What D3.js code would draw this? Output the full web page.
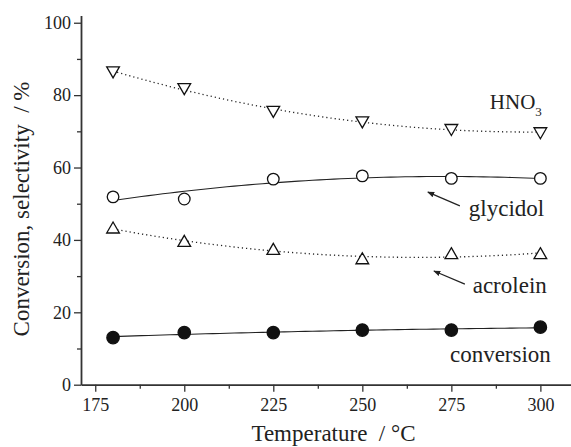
<!DOCTYPE html>
<html>
<head>
<meta charset="utf-8">
<script src="https://cdn.jsdelivr.net/npm/d3@7"></script>
<style>
  html, body { margin: 0; padding: 0; background: #fff; }
  svg { display: block; font-family: "Liberation Serif", "DejaVu Serif", serif; }
</style>
</head>
<body>
<svg id="chart" width="571" height="447"></svg>
<script>
// temperatures (°C)
const temps = [180, 200, 225, 250, 275, 300];
// series values (%)
const hno3 = [86.5, 81.9, 75.6, 72.7, 70.6, 69.7];
const glycidol = [51.9, 51.3, 56.8, 57.7, 57.0, 57.0];
const acrolein = [43.2, 39.5, 37.3, 34.7, 36.1, 36.1];
const conversion = [13.0, 14.4, 14.4, 15.1, 15.1, 15.9];

const xTicks = [175, 200, 225, 250, 275, 300];
const yTicks = [0, 20, 40, 60, 80, 100];

// text labels placed in data coordinates
const labels = [
  { text: 'HNO', sub: '3', x: 285.8, y: 76.3, size: 21 },
  { text: 'glycidol', x: 279.9, y: 46.6, size: 23 },
  { text: 'acrolein', x: 281.0, y: 25.3, size: 23 },
  { text: 'conversion', x: 274.6, y: 6.4, size: 23 }
];
const arrows = [
  { x1: 277.4, y1: 49.4, x2: 268.4, y2: 53.2 },
  { x1: 278.8, y1: 27.8, x2: 270.1, y2: 31.4 }
];

const svg = d3.select('#chart');
const ink = '#222';

const x = d3.scaleLinear().domain([171, 308.6]).range([81, 571]);
const y = d3.scaleLinear().domain([0, 102]).range([384.7, 15.5]);

// quadratic least squares fit
function quadFit(xs, ys) {
    const n = xs.length;
    const m = d3.mean(xs);
    const u = xs.map(v => (v - m) / 50);
    let s = [0, 0, 0, 0, 0], t = [0, 0, 0];
    u.forEach((v, i) => {
        for (let k = 0; k < 5; k++) s[k] += Math.pow(v, k);
        for (let k = 0; k < 3; k++) t[k] += ys[i] * Math.pow(v, k);
    });
    const A = [[s[0], s[1], s[2], t[0]], [s[1], s[2], s[3], t[1]], [s[2], s[3], s[4], t[2]]];
    for (let i = 0; i < 3; i++) {
        for (let j = i + 1; j < 3; j++) {
            const f = A[j][i] / A[i][i];
            for (let k = i; k < 4; k++) A[j][k] -= f * A[i][k];
        }
    }
    const c = [0, 0, 0];
    for (let i = 2; i >= 0; i--) {
        let v = A[i][3];
        for (let k = i + 1; k < 3; k++) v -= A[i][k] * c[k];
        c[i] = v / A[i][i];
    }
    return xv => { const w = (xv - m) / 50; return c[0] + c[1] * w + c[2] * w * w; };
}

const line = d3.line().x(d => x(d[0])).y(d => y(d[1]));
function drawFit(vals, dashed) {
    const f = quadFit(temps, vals);
    const pts = d3.range(180, 300.01, 2).map(t => [t, f(t)]);
    svg.append('path')
        .attr('d', line(pts))
        .attr('fill', 'none')
        .attr('stroke', ink)
        .attr('stroke-width', dashed ? 1.3 : 1.1)
        .attr('stroke-dasharray', dashed ? '1.2,3' : null);
}

drawFit(hno3, true);
drawFit(glycidol, false);
drawFit(acrolein, true);
drawFit(conversion, false);

// markers
const triDown = d3.symbol().type(d3.symbolTriangle).size(70);
function drawMarkers(vals, kind) {
    const g = svg.append('g');
    temps.forEach((t, i) => {
        const cx = x(t), cy = y(vals[i]);
        if (kind === 'circle' || kind === 'filled') {
            g.append('circle')
                .attr('cx', cx).attr('cy', cy)
                .attr('r', kind === 'filled' ? 6.2 : 5.8)
                .attr('fill', kind === 'filled' ? '#111' : '#fff')
                .attr('stroke', '#111')
                .attr('stroke-width', 1.3);
        } else {
            const rot = kind === 'down' ? 180 : 0;
            g.append('path')
                .attr('d', triDown())
                .attr('transform', `translate(${cx},${cy + (kind === 'down' ? -1 : 1)}) rotate(${rot})`)
                .attr('fill', '#fff')
                .attr('stroke', '#111')
                .attr('stroke-width', 1.3);
        }
    });
}
drawMarkers(hno3, 'down');
drawMarkers(glycidol, 'circle');
drawMarkers(acrolein, 'up');
drawMarkers(conversion, 'filled');

// axes
const xAxis = svg.append('g').attr('transform', `translate(0,${y(0)})`)
    .call(d3.axisBottom(x).tickValues(xTicks).tickSize(7).tickPadding(7).tickSizeOuter(0));
svg.append('g').attr('transform', `translate(0,${y(0)})`)
    .call(d3.axisBottom(x).tickValues(d3.range(187.5, 300, 25)).tickSize(4).tickFormat('').tickSizeOuter(0))
    .select('.domain').remove();
const yAxis = svg.append('g').attr('transform', `translate(${x(171)},0)`)
    .call(d3.axisLeft(y).tickValues(yTicks).tickSize(7).tickPadding(3).tickSizeOuter(0));
svg.append('g').attr('transform', `translate(${x(171)},0)`)
    .call(d3.axisLeft(y).tickValues(d3.range(10, 100, 20)).tickSize(4).tickFormat('').tickSizeOuter(0))
    .select('.domain').remove();

svg.selectAll('.domain').attr('stroke', '#333').attr('stroke-width', 1.8);
svg.selectAll('.tick line').attr('stroke', '#333').attr('stroke-width', 1.3);
svg.selectAll('.tick text')
    .attr('font-family', '"Liberation Serif", serif')
    .attr('font-size', 18)
    .attr('fill', '#222');

// axis titles
svg.append('text')
    .attr('x', 333.5).attr('y', 441)
    .attr('text-anchor', 'middle')
    .attr('font-size', 23).attr('fill', '#222')
    .attr('xml:space', 'preserve')
    .text('Temperature  / °C');
svg.append('text')
    .attr('transform', 'translate(29,209) rotate(-90)')
    .attr('text-anchor', 'middle')
    .attr('font-size', 23).attr('fill', '#222')
    .attr('xml:space', 'preserve')
    .text('Conversion, selectivity  / %');

// annotations
labels.forEach(l => {
    const t = svg.append('text')
        .attr('x', x(l.x)).attr('y', y(l.y))
        .attr('font-size', l.size).attr('fill', '#222')
        .text(l.text);
    if (l.sub) {
        t.append('tspan').attr('dy', 7).attr('font-size', 13).text(l.sub);
    }
});

svg.append('defs').append('marker')
    .attr('id', 'arrowhead')
    .attr('viewBox', '0 0 10 10')
    .attr('refX', 9).attr('refY', 5)
    .attr('markerWidth', 7).attr('markerHeight', 7)
    .attr('markerUnits', 'userSpaceOnUse')
    .attr('orient', 'auto')
    .append('path').attr('d', 'M0,1 L10,5 L0,9 Z').attr('fill', '#222');

arrows.forEach(a => {
    svg.append('line')
        .attr('x1', x(a.x1)).attr('y1', y(a.y1))
        .attr('x2', x(a.x2)).attr('y2', y(a.y2))
        .attr('stroke', '#222').attr('stroke-width', 1.2)
        .attr('marker-end', 'url(#arrowhead)');
});
</script>
</body>
</html>
